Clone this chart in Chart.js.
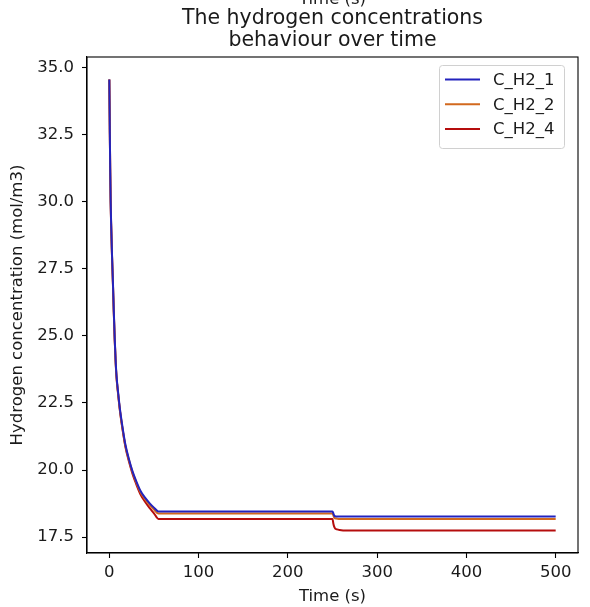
<!DOCTYPE html>
<html>
<head>
<meta charset="utf-8">
<script src="https://cdn.jsdelivr.net/npm/chart.js@4/dist/chart.umd.min.js"></script>
<style>
  html, body { margin: 0; padding: 0; background: #fff; }
  #wrap { width: 590px; height: 607px; }
</style>
</head>
<body>
<div id="wrap"><canvas id="chart" width="590" height="607"></canvas></div>
<script>
// time points (s) and the three concentration series
const timeS = [0, 0.5, 1, 1.5, 2, 3, 4, 5, 6, 7, 8, 10, 12, 15, 18, 22, 26, 30, 35, 40, 45, 50, 55,
               250, 251, 252, 253, 255, 258, 265, 500];
const cH2_1 = [34.55, 32.8, 31.2, 30.05, 29.25, 28.05, 27.05, 25.95, 24.95, 24.15, 23.55, 22.85, 22.25, 21.55, 20.95, 20.4, 19.95, 19.6, 19.22, 18.97, 18.77, 18.6, 18.46,
               18.46, 18.38, 18.3, 18.28, 18.27, 18.27, 18.27, 18.27];
const cH2_2 = [34.55, 32.8, 31.2, 30.0, 29.2, 28.0, 27.0, 25.9, 24.9, 24.1, 23.5, 22.8, 22.2, 21.5, 20.9, 20.37, 19.92, 19.56, 19.17, 18.92, 18.71, 18.53, 18.38,
               18.38, 18.3, 18.22, 18.2, 18.19, 18.18, 18.18, 18.18];
const cH2_4 = [34.55, 32.78, 31.18, 29.98, 29.18, 27.98, 26.98, 25.88, 24.88, 24.08, 23.48, 22.78, 22.18, 21.47, 20.87, 20.32, 19.86, 19.49, 19.09, 18.82, 18.59, 18.39, 18.18,
               18.18, 18.0, 17.88, 17.82, 17.79, 17.77, 17.75, 17.75];
const seriesNames = ['C_H2_1', 'C_H2_2', 'C_H2_4'];
const seriesColors = ['#2323bd', '#d2691e', '#b50d0d'];
const xTicks = [0, 100, 200, 300, 400, 500];
const yTicks = [17.5, 20.0, 22.5, 25.0, 27.5, 30.0, 32.5, 35.0];
const titleLines = ['The hydrogen concentrations', 'behaviour over time'];

const font = 'DejaVu Sans';
const txt = 16.5;

const datasets = [cH2_1, cH2_2, cH2_4].map((vals, i) => ({
    label: seriesNames[i],
    data: timeS.map((t, j) => ({ x: t, y: vals[j] })),
    borderColor: seriesColors[i],
    backgroundColor: seriesColors[i],
    borderWidth: 2,
    pointRadius: 0,
    cubicInterpolationMode: 'monotone',
    fill: false
}));

// frame, title over the plot, the clipped label at the top and the inside legend
const extras = {
    id: 'extras',
    afterDraw(chart) {
        const ctx = chart.ctx;
        const a = chart.chartArea;
        const cx = (a.left + a.right) / 2;
        ctx.save();
        ctx.strokeStyle = '#000';
        ctx.lineWidth = 1.1;
        ctx.strokeRect(a.left, a.top, a.right - a.left, a.bottom - a.top);

        ctx.fillStyle = '#1a1a1a';
        ctx.font = txt + 'px "' + font + '"';
        ctx.textAlign = 'center';
        ctx.textBaseline = 'alphabetic';
        ctx.fillText('Time (s)', cx, 4);

        ctx.font = '20.5px "' + font + '"';
        ctx.textBaseline = 'middle';
        titleLines.forEach((line, i) => ctx.fillText(line, cx, 19 + i * 21.5));

        // legend
        const bx = 439, by = 65, bw = 125, bh = 83;
        ctx.font = txt + 'px "' + font + '"';
        ctx.fillStyle = 'rgba(255,255,255,0.8)';
        ctx.strokeStyle = '#d0d0d0';
        ctx.lineWidth = 1;
        ctx.beginPath();
        ctx.roundRect(bx + 0.5, by + 0.5, bw, bh, 3);
        ctx.fill();
        ctx.stroke();
        ctx.textAlign = 'left';
        chart.data.datasets.forEach((ds, i) => {
            const y = by + 14.5 + i * 24.8;
            ctx.strokeStyle = ds.borderColor;
            ctx.lineWidth = 2;
            ctx.beginPath();
            ctx.moveTo(bx + 6, y);
            ctx.lineTo(bx + 41, y);
            ctx.stroke();
            ctx.fillStyle = '#1a1a1a';
            ctx.fillText(ds.label, bx + 54, y + 1);
        });
        ctx.restore();
    }
};

new Chart(document.getElementById('chart'), {
    type: 'line',
    data: { datasets },
    options: {
        responsive: false,
        animation: false,
        layout: { padding: { left: 0, right: 12, top: 57, bottom: 0 } },
        plugins: {
            legend: { display: false },
            tooltip: { enabled: false },
            title: { display: false }
        },
        scales: {
            x: {
                type: 'linear',
                min: -25,
                max: 525,
                afterBuildTicks: s => { s.ticks = xTicks.map(v => ({ value: v })); },
                afterFit: s => { s.height = 54; },
                ticks: {
                    color: '#1a1a1a',
                    font: { family: font, size: txt },
                    padding: 5,
                    maxRotation: 0,
                    callback: v => String(v)
                },
                grid: { drawOnChartArea: false, tickLength: 5, color: '#000', tickWidth: 1.1 },
                border: { display: true, color: '#000', width: 1.1 },
                title: {
                    display: true,
                    text: 'Time (s)',
                    color: '#1a1a1a',
                    font: { family: font, size: txt },
                    padding: { top: 0, bottom: 0 }
                }
            },
            y: {
                type: 'linear',
                min: 16.91,
                max: 35.39,
                afterBuildTicks: s => { s.ticks = yTicks.map(v => ({ value: v })); },
                afterFit: s => { s.width = 87; },
                ticks: {
                    color: '#1a1a1a',
                    font: { family: font, size: txt },
                    padding: 8,
                    callback: v => Number(v).toFixed(1)
                },
                grid: { drawOnChartArea: false, tickLength: 5, color: '#000', tickWidth: 1.1 },
                border: { display: true, color: '#000', width: 1.1 },
                title: {
                    display: true,
                    text: 'Hydrogen concentration (mol/m3)',
                    color: '#1a1a1a',
                    font: { family: font, size: txt },
                    padding: { top: 8, bottom: 2 }
                }
            }
        }
    },
    plugins: [extras]
});
</script>
</body>
</html>
